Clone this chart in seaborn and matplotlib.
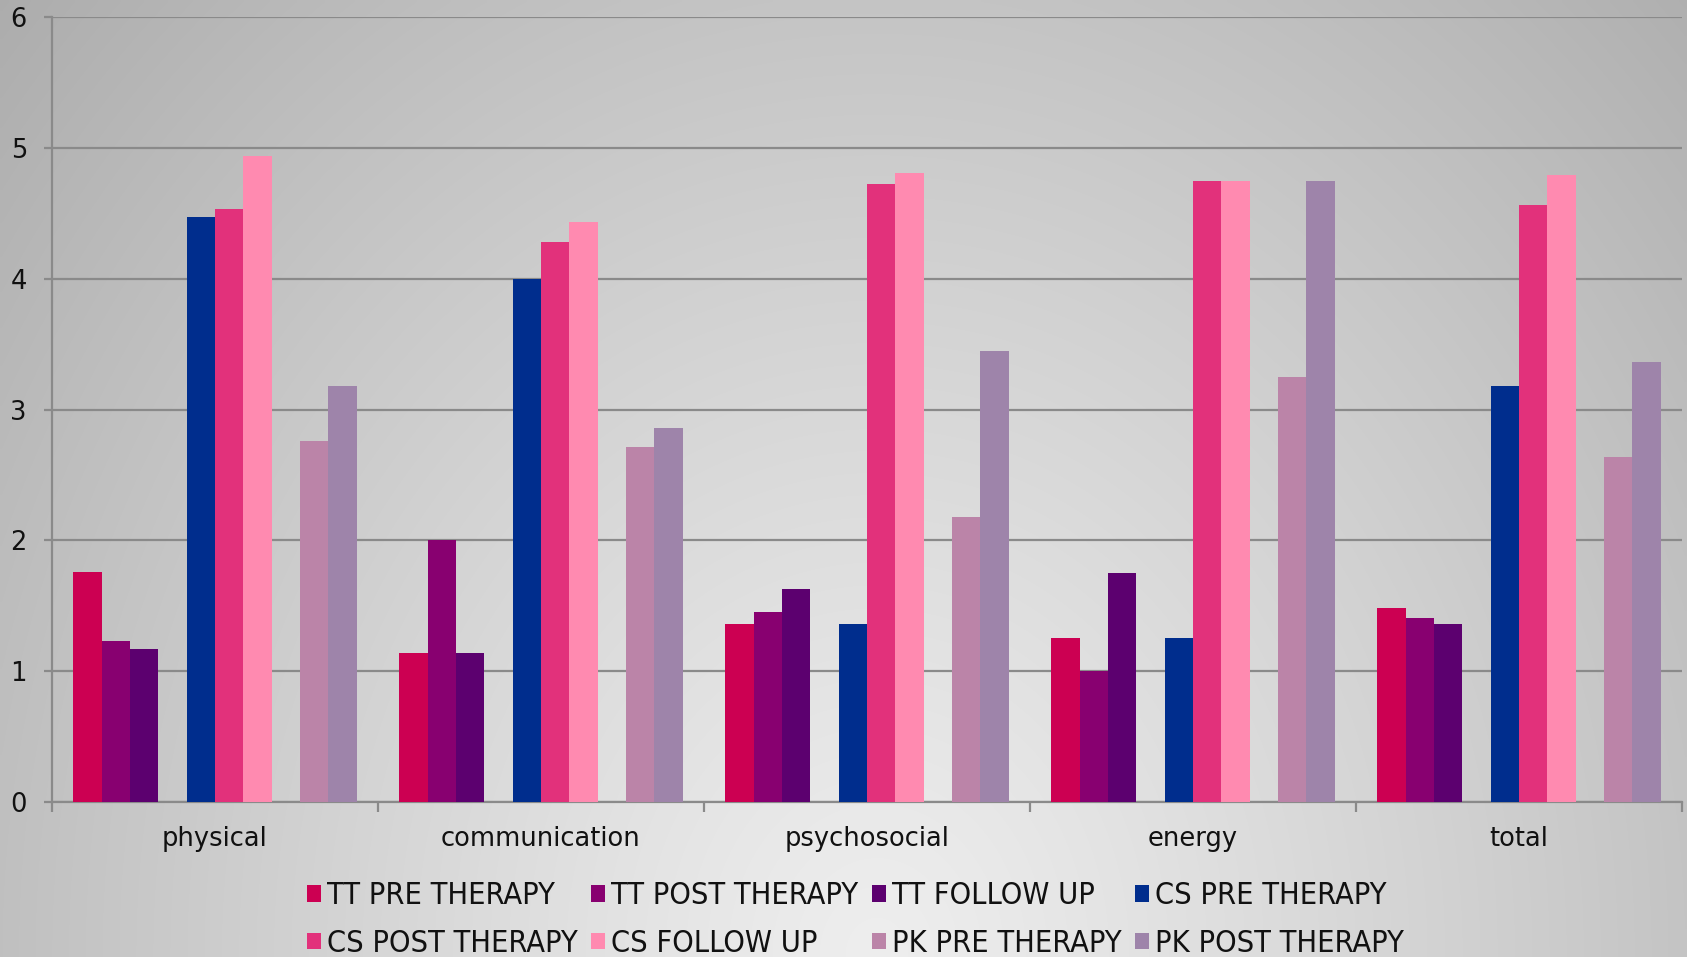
import numpy as np
import pandas as pd
import matplotlib
matplotlib.use("Agg")
import matplotlib.pyplot as plt
from matplotlib.patches import Patch
import seaborn as sns

# Domain scores per category
categories = ["physical", "communication", "psychosocial", "energy", "total"]
tt_pre = [1.76, 1.14, 1.36, 1.25, 1.48]
tt_post = [1.23, 2.00, 1.45, 1.00, 1.41]
tt_follow = [1.17, 1.14, 1.63, 1.75, 1.36]
cs_pre = [4.47, 4.00, 1.36, 1.25, 3.18]
cs_post = [4.53, 4.28, 4.72, 4.75, 4.56]
cs_follow = [4.94, 4.43, 4.81, 4.75, 4.79]
pk_pre = [2.76, 2.71, 2.18, 3.25, 2.64]
pk_post = [3.18, 2.86, 3.45, 4.75, 3.36]
y_ticks = [0, 1, 2, 3, 4, 5, 6]

series = {
    "TT PRE THERAPY": tt_pre,
    "TT POST THERAPY": tt_post,
    "TT FOLLOW UP": tt_follow,
    "CS PRE THERAPY": cs_pre,
    "CS POST THERAPY": cs_post,
    "CS FOLLOW UP": cs_follow,
    "PK PRE THERAPY": pk_pre,
    "PK POST THERAPY": pk_post,
}
colors = {
    "TT PRE THERAPY": "#CC0052",
    "TT POST THERAPY": "#880070",
    "TT FOLLOW UP": "#5C006F",
    "CS PRE THERAPY": "#002D8D",
    "CS POST THERAPY": "#E2317B",
    "CS FOLLOW UP": "#FF8AB0",
    "PK PRE THERAPY": "#BB84A8",
    "PK POST THERAPY": "#9E84AA",
}
# empty slots separating the three groups of bars
gap_a, gap_b = "_gap_a", "_gap_b"
names = list(series)
hue_order = names[:3] + [gap_a] + names[3:6] + [gap_b] + names[6:]
palette = dict(colors)
palette[gap_a] = "#ffffff"
palette[gap_b] = "#ffffff"

df = pd.DataFrame(
    [(c, s, v) for s, vals in series.items() for c, v in zip(categories, vals)],
    columns=["category", "series", "score"],
)

sns.set_theme(style="white")
plt.rcParams["font.family"] = ["DejaVu Sans"]

W, H = 1687, 957
fig = plt.figure(figsize=(W / 100, H / 100), dpi=100)

# radial grey backdrop
bg = fig.add_axes([0, 0, 1, 1], zorder=-10)
xx, yy = np.meshgrid(np.linspace(0, 1, 400), np.linspace(0, 1, 240))
d = np.sqrt(((xx - 0.52) / 0.5) ** 2 + ((yy - 0.0) / 1.05) ** 2)
shade = np.clip(238 - 44 * d ** 1.15, 165, 240) / 255.0
bg.imshow(np.dstack([shade] * 3), origin="lower", extent=[0, 1, 0, 1],
          aspect="auto", interpolation="bilinear")
bg.set_axis_off()

ax = fig.add_axes([52 / W, 1 - 802 / H, (1682 - 52) / W, (802 - 17) / H])
ax.set_facecolor("none")

sns.barplot(data=df, x="category", y="score", hue="series",
            order=categories, hue_order=hue_order, palette=palette,
            width=10 / 11.5, saturation=1, legend=False, ax=ax,
            edgecolor="none", linewidth=0, zorder=3)

ax.set_ylim(0, 6)
ax.set_xlim(-0.5, len(categories) - 0.5)
ax.set_yticks(y_ticks)
ax.set_xlabel("")
ax.set_ylabel("")

grid_col = "#8a8a8a"
ax.yaxis.grid(True, color=grid_col, linewidth=1.6, zorder=1)
ax.set_axisbelow(True)
for side in ["top", "right"]:
    ax.spines[side].set_visible(False)
for side in ["left", "bottom"]:
    ax.spines[side].set_color(grid_col)
    ax.spines[side].set_linewidth(1.6)

ax.tick_params(axis="y", length=6, width=1.6, color=grid_col, pad=12,
               labelsize=18.5, labelcolor="#111111", left=True)
ax.tick_params(axis="x", which="major", length=0, pad=17,
               labelsize=18.5, labelcolor="#111111")
ax.set_xticks(np.arange(-0.5, len(categories)), minor=True)
ax.tick_params(axis="x", which="minor", length=7, width=1.6,
               color=grid_col, bottom=True)

handles = [Patch(facecolor=colors[n], edgecolor="none", label=n) for n in names]
order = [0, 4, 1, 5, 2, 6, 3, 7]
fig.legend([handles[i] for i in order], [names[i] for i in order],
           loc="center", bbox_to_anchor=(0.507, 0.039), ncol=4,
           frameon=False, handlelength=0.45, handleheight=0.45,
           handletextpad=0.2, columnspacing=0.45, labelspacing=0.62,
           prop={"family": "DejaVu Sans", "stretch": "condensed", "size": 22},
           labelcolor="#111111")

fig.savefig("out.png", dpi=100)
